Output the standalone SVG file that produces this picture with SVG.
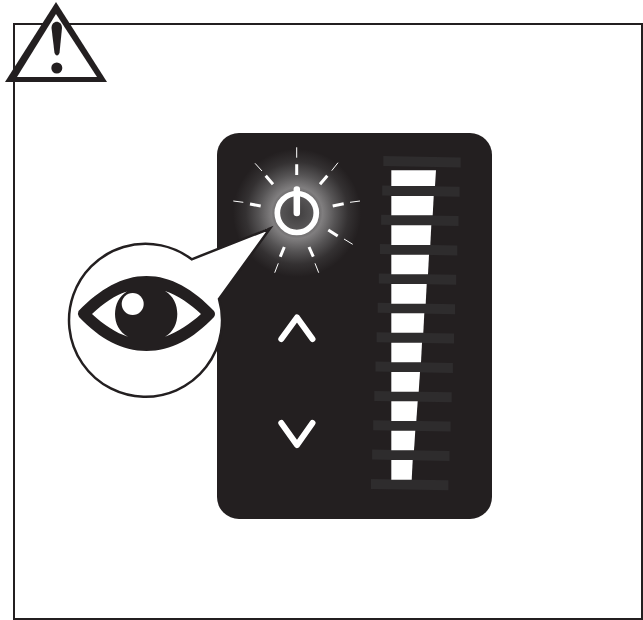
<svg xmlns="http://www.w3.org/2000/svg" width="643" height="620" viewBox="0 0 643 620">
<style>
.d{fill:#231f20}
.b{fill:#2e2c2d}
.w{fill:#fff}
.ri{stroke:#fff;stroke-width:3;fill:none}
.ro{stroke:#fff;stroke-width:1;fill:none}
.ch{stroke:#fff;stroke-width:6;fill:none;stroke-linecap:round;stroke-linejoin:round}
</style>
<defs>
<radialGradient id="glow" gradientUnits="userSpaceOnUse" cx="297" cy="213" r="64">
<stop offset="0" stop-color="#403e3f"/>
<stop offset="0.25" stop-color="#565455"/>
<stop offset="0.4" stop-color="#807e7f"/>
<stop offset="0.6" stop-color="#565455"/>
<stop offset="0.8" stop-color="#343132"/>
<stop offset="1" stop-color="#231f20"/>
</radialGradient>
<polygon id="bar" points="0,-5.700 77.400,-4.300 77.400,5.700 0,4.300"/>
</defs>
<rect width="643" height="620" fill="#fff"/>
<g id="frame"><rect x="14" y="24" width="628" height="595" fill="none" stroke="#231f20" stroke-width="2"/></g>
<g id="panel">
<rect class="d" x="217" y="133" width="275" height="386" rx="22" ry="22"/>
</g>
<g id="power">
<circle cx="297" cy="213" r="64" fill="url(#glow)"/>
<g class="ri">
<path d="M296.700 164.300V175M265.700 175.700L273 184.300M327.300 175.700L320 184.300M250 204L260.700 206M332.700 206L343.700 203.700M328.300 230L337.700 236M258 234L268 229.500M284.300 247L280.300 256.700M309 247L313.300 256.700"/>
</g>
<g class="ro">
<path d="M296.700 147.300V157.700M255 163.300L262 171M338 162.700L331.700 170.700M233.300 201L243.300 202.300M350 202.300L360 201M344 239L352.700 244.300M278.300 263.300L274.700 272.700M315 263.300L318.700 272.700"/>
</g>
<circle cx="296.800" cy="213" r="19.500" fill="none" stroke="#fff" stroke-width="5.700"/>
<path d="M296.800 189.500V213" stroke="#fff" stroke-width="6.500" stroke-linecap="round" fill="none"/>
</g>
<g id="level">
<g class="b">
<use href="#bar" x="383.300" y="161.700"/>
<use href="#bar" x="382.200" y="191.100"/>
<use href="#bar" x="381.100" y="220.400"/>
<use href="#bar" x="379.900" y="249.800"/>
<use href="#bar" x="378.800" y="279.100"/>
<use href="#bar" x="377.700" y="308.500"/>
<use href="#bar" x="376.600" y="337.900"/>
<use href="#bar" x="375.500" y="367.200"/>
<use href="#bar" x="374.300" y="396.600"/>
<use href="#bar" x="373.200" y="425.900"/>
<use href="#bar" x="372.100" y="455.300"/>
<use href="#bar" x="371" y="484.600"/>
</g>
<g class="w">
<polygon points="391.300,170.300 436,170.300 435,186 391.300,186"/>
<polygon points="391.300,196 433.700,196 432.700,215.300 391.300,215.300"/>
<polygon points="391.300,225.300 431.300,225.300 430.300,245 391.300,245"/>
<polygon points="391.300,254.700 429,254.700 428,274.300 391.300,274.300"/>
<polygon points="391.300,284 426.700,284 425.700,303.700 391.300,303.700"/>
<polygon points="391.300,313.300 424.300,313.300 423.300,332.700 391.300,332.700"/>
<polygon points="391.300,342.700 422,342.700 421,362.300 391.300,362.300"/>
<polygon points="391.300,372 420,372 418.700,391.700 391.300,391.700"/>
<polygon points="391.300,401.300 417.700,401.300 416.300,421 391.300,421"/>
<polygon points="391.300,430.700 415.300,430.700 414,450.300 391.300,450.300"/>
<polygon points="391.300,460 412.700,460 411.700,479.700 391.300,479.700"/>
</g>
</g>
<g id="up"><path class="ch" d="M281.300 339L297 317.500L312.500 339"/></g>
<g id="down"><path class="ch" d="M281.300 423L297 445L312.500 423"/></g>
<g id="callout">
<path class="w" stroke="#231f20" stroke-width="2.500" stroke-linejoin="miter" d="M191.700 259.300L270 228.500L219 299A76.500 76.500 0 1 1 191.700 259.300Z"/>
<path class="d" fill-rule="evenodd" d="M78.500 311C100 289 122 276 146.500 276C171 276 193 289 214 311Q216 314 214 317C193 339 171 351 146.500 351C122 351 100 339 79 317Q77 314 78.500 311ZM92 314C104 325 116 333 128 336.700C119 332 115 323 115 314C115 305 119 296 127 291.500C115 295 104 303 92 314ZM165 291C173.500 296 177.300 305 177.300 314C177.300 323 173.500 332 165 336.700C178 332 190 324 201 314C190 304 178 295 165 291Z"/>
<circle class="w" cx="132.700" cy="304" r="11"/>
</g>
<g id="warning">
<path class="d" d="M56 2L107 82H5Z"/>
<polygon class="w" points="56,14 17,77 97,77"/>
<path class="d" d="M51.500 28C51.500 19.500 62 19.500 62 28L59.500 53Q57 58 54.500 53Z"/>
<circle class="d" cx="56.800" cy="68" r="5.500"/>
</g>
</svg>
